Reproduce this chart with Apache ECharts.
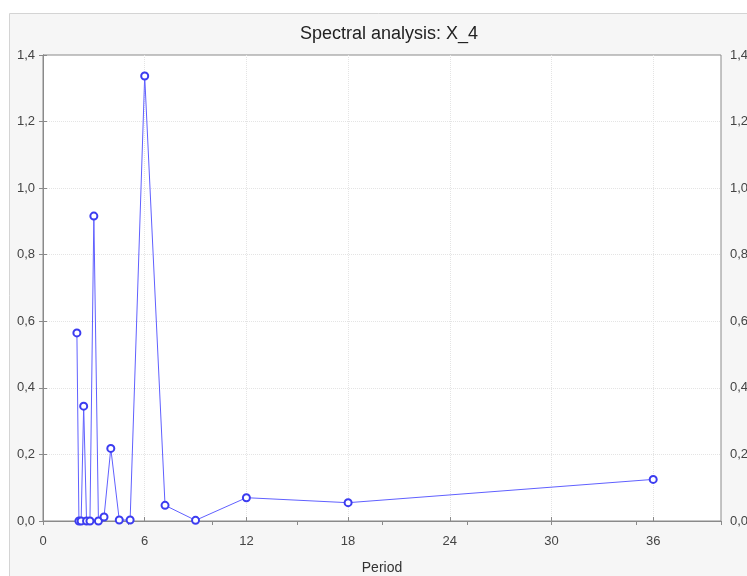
<!DOCTYPE html>
<html>
<head>
<meta charset="utf-8">
<script src="https://cdn.jsdelivr.net/npm/echarts@6/dist/echarts.min.js"></script>
<style>
  html, body { margin: 0; padding: 0; background: #fff; }
  #chart { width: 747px; height: 576px; }
</style>
</head>
<body>
<div id="chart"></div>
<script>
// periods (x) and spectral values (y)
const periods = [2, 2.12, 2.25, 2.4, 2.57, 2.77, 3, 3.27, 3.6, 4, 4.5, 5.14, 6, 7.2, 9, 12, 18, 36]
const values = [0.565, 0, 0, 0.345, 0, 0, 0.916, 0, 0.012, 0.218, 0.003, 0.003, 1.337, 0.047, 0.002, 0.07, 0.055, 0.125]
const titleText = 'Spectral analysis: X_4'
const xName = 'Period'

const seriesData = periods.map((p, i) => [p, values[i]])
const commaFmt = v => v.toFixed(1).replace('.', ',')
const font = 'Liberation Sans, Arial, sans-serif'

let myChart = echarts.init(document.getElementById('chart'))
myChart.setOption({
  animation: false,
  backgroundColor: '#fff',
  graphic: [
    {
      type: 'rect',
      z: -10,
      shape: { x: 9.5, y: 13.5, width: 760, height: 600 },
      style: { fill: '#f6f6f6', stroke: '#d4d4d4', lineWidth: 1 }
    }
  ],
  title: {
    text: titleText,
    left: 384,
    textAlign: 'center',
    top: 20,
    textStyle: { fontFamily: font, fontSize: 18, fontWeight: 'normal', color: '#222' }
  },
  grid: {
    left: 43,
    top: 55,
    right: 26,
    bottom: 55,
    outerBoundsMode: 'none',
    containLabel: false,
    show: true,
    backgroundColor: '#fff',
    borderColor: '#8a8a8a',
    borderWidth: 1
  },
  xAxis: [
    {
      type: 'value',
      position: 'bottom',
      min: 0,
      max: 40,
      interval: 6,
      name: xName,
      nameLocation: 'middle',
      nameGap: 40,
      nameTextStyle: { fontFamily: font, fontSize: 14, color: '#333' },
      axisLine: { lineStyle: { color: '#8a8a8a' } },
      axisTick: { inside: true, length: 4, lineStyle: { color: '#8a8a8a' } },
      axisLabel: { fontFamily: font, fontSize: 13, color: '#444', margin: 14, showMaxLabel: false },
      splitLine: { show: true, showMinLine: false, showMaxLine: false, lineStyle: { color: '#e4e4e4', type: 'dotted' } }
    },
    {
      type: 'value',
      position: 'top',
      min: 0,
      max: 40,
      interval: 5,
      axisLine: { lineStyle: { color: '#8a8a8a' } },
      axisTick: { inside: true, length: 4, lineStyle: { color: '#8a8a8a' } },
      axisLabel: { show: false },
      splitLine: { show: false }
    }
  ],
  yAxis: [
    {
      type: 'value',
      position: 'left',
      min: 0,
      max: 1.4,
      interval: 0.2,
      axisLine: { show: true, lineStyle: { color: '#8a8a8a' } },
      axisTick: { show: true, inside: true, length: 4, lineStyle: { color: '#8a8a8a' } },
      axisLabel: { fontFamily: font, fontSize: 13, color: '#444', margin: 8, formatter: commaFmt },
      splitLine: { show: true, showMinLine: false, showMaxLine: false, lineStyle: { color: '#e4e4e4', type: 'dotted' } }
    },
    {
      type: 'value',
      position: 'right',
      min: 0,
      max: 1.4,
      interval: 0.2,
      axisLine: { show: true, lineStyle: { color: '#8a8a8a' } },
      axisTick: { show: true, inside: true, length: 4, lineStyle: { color: '#8a8a8a' } },
      axisLabel: { fontFamily: font, fontSize: 13, color: '#444', margin: 9, formatter: commaFmt },
      splitLine: { show: false }
    }
  ],
  series: [
    {
      type: 'line',
      xAxisIndex: 0,
      yAxisIndex: 0,
      data: seriesData,
      symbol: 'emptyCircle',
      symbolSize: 7,
      lineStyle: { color: '#6060ff', width: 1 },
      itemStyle: { color: '#3c3cf0', borderWidth: 1.2 }
    }
  ]
})
myChart.resize()
</script>
</body>
</html>
